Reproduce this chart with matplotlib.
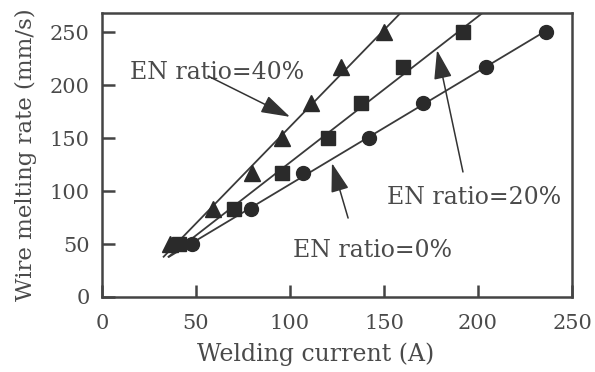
import numpy as np
import matplotlib
matplotlib.use("Agg")
import matplotlib.pyplot as plt

# Data
rate = [50, 83, 117, 150, 183, 217, 250]
current_40 = [36, 59, 80, 96, 111, 127, 150]
current_20 = [41, 70, 96, 120, 138, 160, 192]
current_0 = [48, 79, 107, 142, 171, 204, 236]

xticks = [0, 50, 100, 150, 200, 250]
yticks = [0, 50, 100, 150, 200, 250]

plt.rcParams['font.family'] = ['DejaVu Serif']
TXT = '#4a4a4a'
INK = '#2a2a2a'

fig = plt.figure(figsize=(5.95, 3.72), dpi=100)
ax = fig.add_axes([102/595, 1-297/372, 470/595, 284/372])

ax.set_xlim(0, 250)
ax.set_ylim(0, 268)

series = [(current_40, '^', 280), (current_20, 's', 280), (current_0, 'o', 252)]
for xs, m, ytop in series:
    xs = np.array(xs, float)
    ys = np.array(rate, float)
    k, b = np.polyfit(xs, ys, 1)
    x0 = (38 - b) / k
    x1 = (ytop - b) / k
    xx = np.array([x0, x1])
    ax.plot(xx, k*xx + b, color='#3a3a3a', lw=1.3, zorder=2)
    ax.plot(xs, ys, linestyle='none', marker=m, ms=10 if m != '^' else 11,
            color=INK, mec=INK, zorder=3)

ax.set_xticks(xticks)
ax.set_yticks(yticks)
ax.tick_params(direction='in', length=9, width=1.8, colors='#444444',
               labelcolor=TXT, labelsize=15, top=False, right=False)
ax.tick_params(axis='x', pad=12)
ax.tick_params(axis='y', pad=9)
for s in ax.spines.values():
    s.set_linewidth(1.8)
    s.set_color('#444444')

ax.set_xlabel('Welding current (A)', fontsize=17, color=TXT)
ax.set_ylabel('Wire melting rate (mm/s)', fontsize=16.5, color=TXT)
ax.xaxis.set_label_coords(0.455, -0.16)
ax.yaxis.set_label_coords(-0.138, 0.5)

aprops = dict(arrowstyle='-|>,head_length=0.9,head_width=0.28', color='#333333',
              lw=1.1, mutation_scale=20, shrinkA=0, shrinkB=0)
ax.text(15, 212, 'EN ratio=40%', fontsize=17, color=TXT, va='center', ha='left')
ax.annotate('', xy=(100, 170), xytext=(56.4, 208.5), arrowprops=aprops)
ax.text(151.6, 94, 'EN ratio=20%', fontsize=17, color=TXT, va='center', ha='left')
ax.annotate('', xy=(178.2, 233), xytext=(192, 118), arrowprops=aprops)
ax.text(101.6, 44, 'EN ratio=0%', fontsize=17, color=TXT, va='center', ha='left')
ax.annotate('', xy=(122.3, 126.4), xytext=(130.9, 74.5), arrowprops=aprops)

fig.savefig('out.png', dpi=100)
